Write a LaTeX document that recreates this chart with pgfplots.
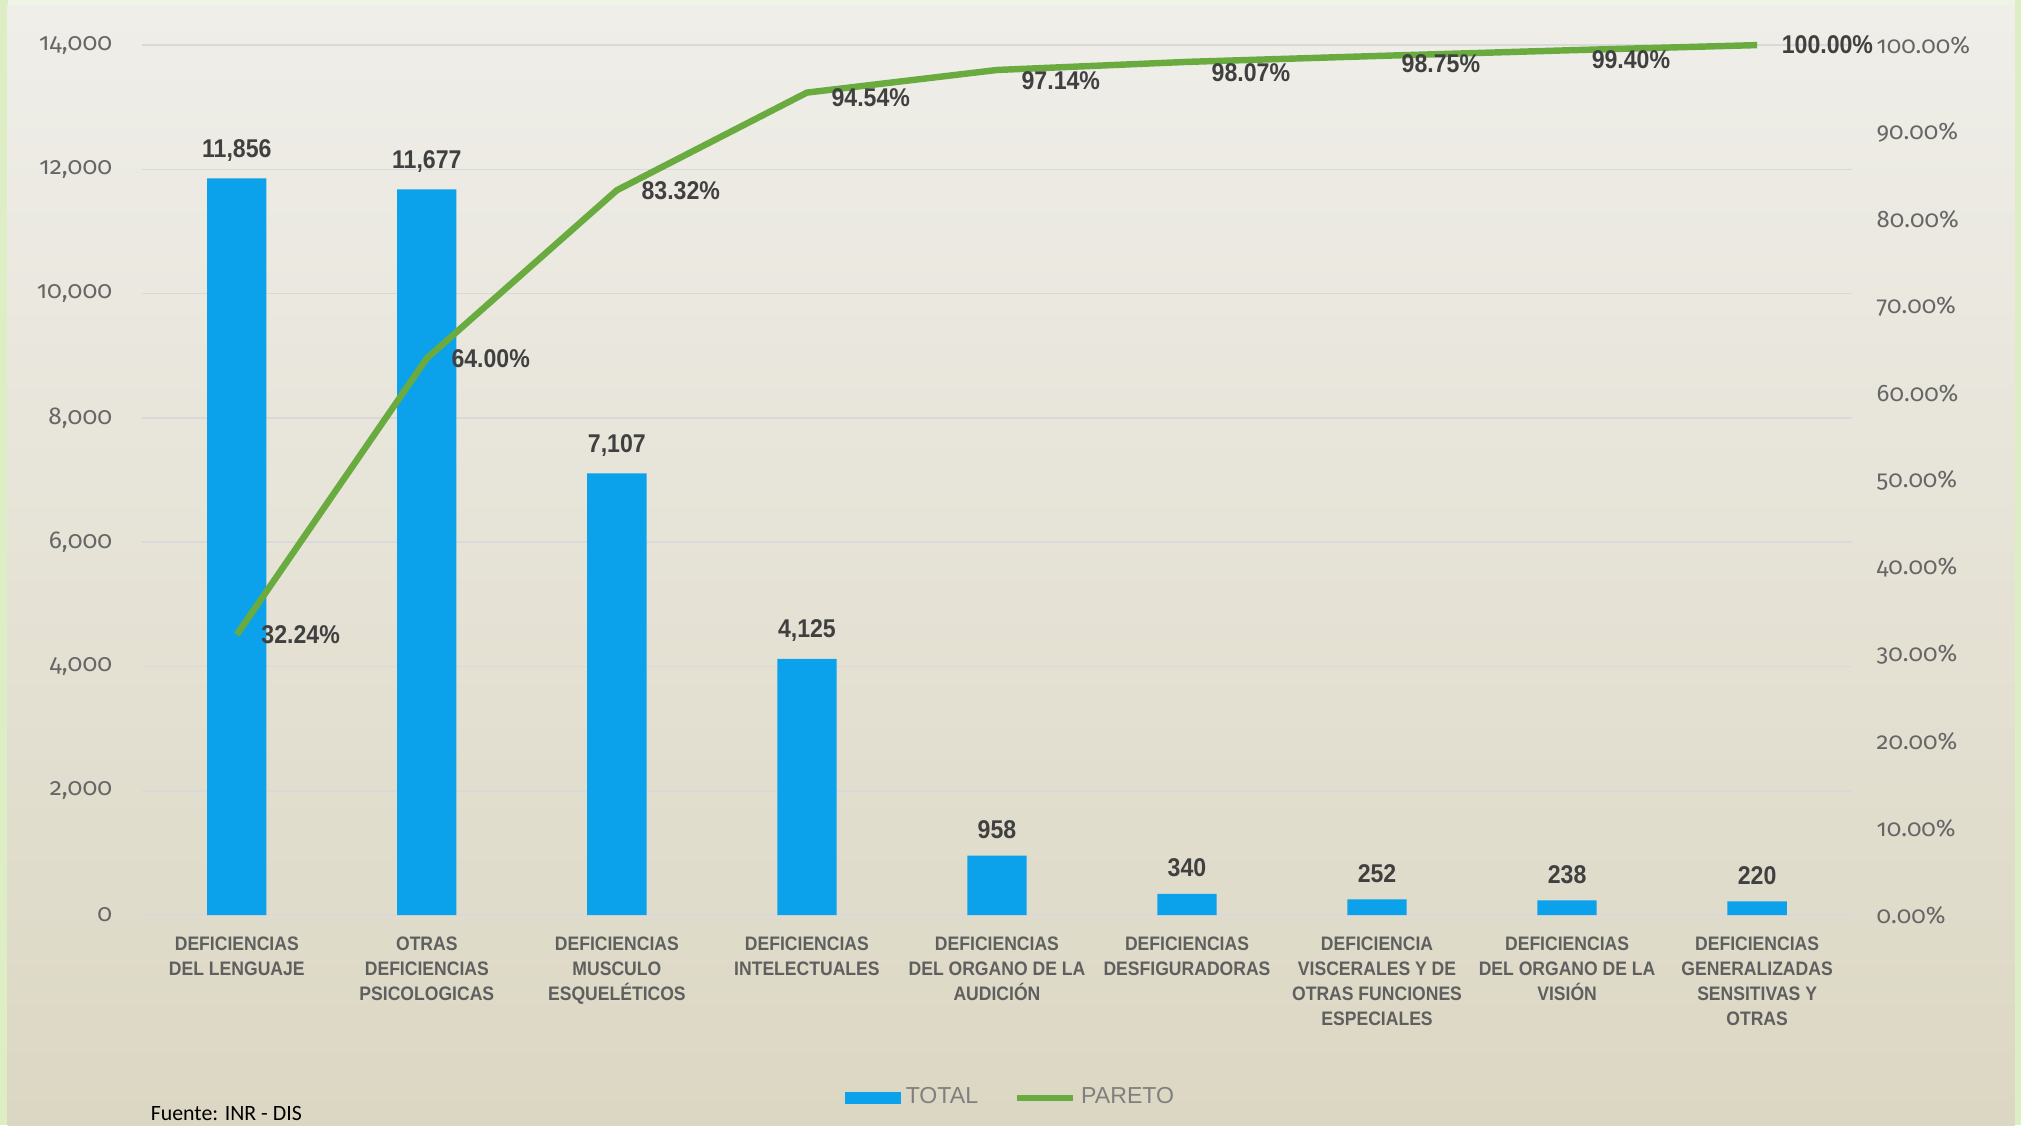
\documentclass[border=0pt]{standalone}
\usepackage{fontspec}
\usepackage{pgfplots}
\pgfplotsset{compat=1.18}
\usepackage{pgfplotstable}
\setmainfont{Liberation Sans}
\newfontfamily\catfont{Liberation Sans}[FakeStretch=0.9]
\newfontfamily\lblfont{Liberation Sans}[FakeStretch=0.9]
\newfontfamily\tickfont{Fira Sans}[Numbers=OldStyle]
\newfontfamily\srcfont{Carlito}
\definecolor{barblue}{HTML}{0BA1EB}
\definecolor{paretogreen}{HTML}{6AAB3F}
\definecolor{framegreen}{HTML}{DDEDC4}
\definecolor{frametop}{HTML}{EEF5E4}
\definecolor{paneltop}{HTML}{EFEEE9}
\definecolor{panelbottom}{HTML}{DCD7C3}
\definecolor{gridgray}{HTML}{D9D9D9}
\definecolor{ticktext}{HTML}{666666}
\definecolor{cattext}{HTML}{5F5F5F}
\definecolor{lbltext}{HTML}{404040}
\definecolor{legtext}{HTML}{7F7F7F}

\pgfplotstableread{
x total
0 11856
1 11677
2 7107
3 4125
4 958
5 340
6 252
7 238
8 220
}\totals
\pgfplotstableread{
x p dy
0 32.24 0
1 64.00 0
2 83.32 0
3 94.54 -2
4 97.14 -4
5 98.07 -4
6 98.75 -3
7 99.40 -3.5
8 100.00 0
}\pareto

\begin{document}
\begin{tikzpicture}
\path[use as bounding box] (0,0) rectangle (784bp,436.5bp);
\fill[frametop] (0,0) rectangle (784bp,436.5bp);
\fill[framegreen] (0,0) rectangle (3bp,436.5bp);
\fill[framegreen] (781.5bp,0) rectangle (784bp,436.5bp);
\shade[top color=paneltop,bottom color=panelbottom] (3bp,0) rectangle (781.5bp,434.5bp);

\begin{axis}[
  at={(55bp,81.5bp)}, anchor=south west, scale only axis,
  width=663.5bp, height=337.5bp,
  xmin=-0.5, xmax=8.5, ymin=0, ymax=14000,
  ybar, bar width=23bp,
  axis line style={draw=none},
  major tick length=0pt,
  ytick={0,2000,...,14000},
  scaled y ticks=false,
  ymajorgrids, grid style={gridgray, line width=0.6bp},
  xtick=data,
  xticklabels={{DEFICIENCIAS\\DEL LENGUAJE},
    {OTRAS\\DEFICIENCIAS\\PSICOLOGICAS},
    {DEFICIENCIAS\\MUSCULO\\ESQUELÉTICOS},
    {DEFICIENCIAS\\INTELECTUALES},
    {DEFICIENCIAS\\DEL ORGANO DE LA\\AUDICIÓN},
    {DEFICIENCIAS\\DESFIGURADORAS},
    {DEFICIENCIA\\VISCERALES Y DE\\OTRAS FUNCIONES\\ESPECIALES},
    {DEFICIENCIAS\\DEL ORGANO DE LA\\VISIÓN},
    {DEFICIENCIAS\\GENERALIZADAS\\SENSITIVAS Y\\OTRAS}},
  xticklabel style={align=center, font=\catfont\bfseries\fontsize{7.6}{9.75}\selectfont, text=cattext, yshift=-5bp},
  yticklabel style={font=\tickfont\fontsize{9.5}{11}\selectfont, text=ticktext, xshift=-8bp},
  yticklabel={\pgfmathprintnumber[fixed,precision=0,1000 sep={,}]{\tick}},
  /pgf/number format/1000 sep={,},
  /pgf/number format/assume math mode=true,
  nodes near coords,
  nodes near coords style={font=\lblfont\bfseries\fontsize{10}{12}\selectfont, text=lbltext, yshift=3bp},
  clip=false,
]
\addplot[fill=barblue, draw=none] table[x=x,y=total]{\totals};
\end{axis}

\begin{axis}[
  at={(55bp,81.5bp)}, anchor=south west, scale only axis,
  width=663.5bp, height=337.5bp,
  xmin=-0.5, xmax=8.5, ymin=0, ymax=100,
  axis y line*=right, axis x line=none,
  axis line style={draw=none},
  major tick length=0pt,
  ytick={0,10,...,100},
  /pgf/number format/assume math mode=true,
  yticklabel={\pgfmathprintnumber[fixed,fixed zerofill,precision=2]{\tick}\%},
  yticklabel style={font=\tickfont\fontsize{9.3}{11}\selectfont, text=ticktext, xshift=6bp},
  clip=false,
  legend style={at={(0.509,-0.21)}, anchor=center, draw=none, fill=none,
    font=\fontsize{9}{11}\selectfont, text=legtext,
    /tikz/every even column/.append style={column sep=12bp}},
  legend columns=2,
  legend cell align=left,
]
\addlegendimage{legend image code/.code={\fill[barblue] (0bp,-2.25bp) rectangle (21bp,2.25bp);}}
\addlegendentry{TOTAL}
\addlegendimage{legend image code/.code={\draw[paretogreen,line width=2.5bp] (0bp,0bp) -- (21.5bp,0bp);}}
\addlegendentry{PARETO}
\addplot[paretogreen, line width=2.5bp, line join=round, no markers, forget plot,
  point meta=y,
  nodes near coords={\pgfmathprintnumber[fixed,fixed zerofill,precision=2]{\pgfplotspointmeta}\%},
  visualization depends on={\thisrow{dy}\as\dy},
  every node near coord/.append style={anchor=west, xshift=5bp, yshift=\dy bp,
    font=\lblfont\bfseries\fontsize{10}{12}\selectfont, text=lbltext}]
  table[x=x,y=p]{\pareto};
\end{axis}

\node[anchor=base west, font=\srcfont\fontsize{8.5}{10}\selectfont, text=black] at (55bp,1.8bp) {Fuente: INR - DIS};
\end{tikzpicture}
\end{document}
